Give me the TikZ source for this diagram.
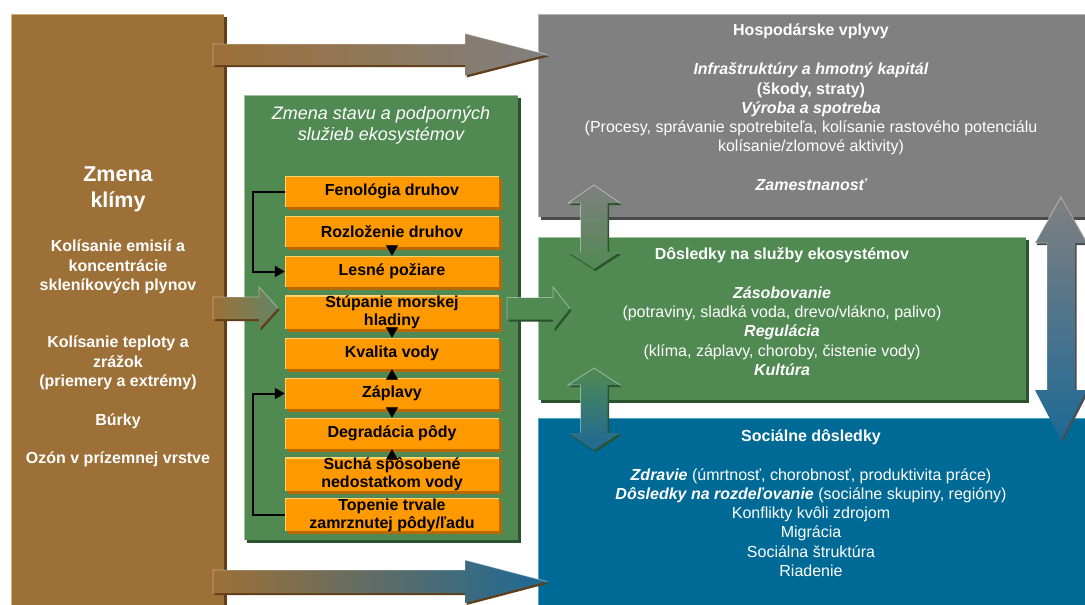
\documentclass[tikz,border=0pt]{standalone}
\usepackage{fontspec}
\setmainfont{Liberation Sans}
\usetikzlibrary{arrows.meta,shadows}
\definecolor{brownc}{RGB}{157,112,56}
\definecolor{brownl}{RGB}{205,175,130}
\definecolor{brownd}{RGB}{95,62,25}
\definecolor{greenc}{RGB}{80,137,82}
\definecolor{greenl}{RGB}{160,195,160}
\definecolor{greend}{RGB}{42,82,44}
\definecolor{grayc}{RGB}{128,128,128}
\definecolor{grayl}{RGB}{180,180,180}
\definecolor{grayd}{RGB}{75,75,75}
\definecolor{bluec}{RGB}{0,106,150}
\definecolor{bluel}{RGB}{80,160,200}
\definecolor{blued}{RGB}{0,60,90}
\definecolor{arrblue}{RGB}{30,105,150}
\definecolor{orangec}{RGB}{255,153,0}
\definecolor{orangel}{RGB}{255,210,110}
\definecolor{oranged}{RGB}{185,105,0}
\newcommand\harrow[8]{%
  \fill[#8, shift={(1.5,2)}] (#1,{#4-#5}) -- (#2,{#4-#5}) -- (#2,{#4-#6}) -- (#3,#4) -- (#2,{#4+#6}) -- (#2,{#4+#5}) -- (#1,{#4+#5}) -- cycle;
  \shade[#7] (#1,{#4-#5}) -- (#2,{#4-#5}) -- (#2,{#4-#6}) -- (#3,#4) -- (#2,{#4+#6}) -- (#2,{#4+#5}) -- (#1,{#4+#5}) -- cycle;
  \draw[white, opacity=0.4, line width=0.9pt] (#1,{#4+#5}) -- (#1,{#4-#5}) -- (#2,{#4-#5}) -- (#2,{#4-#6}) -- (#3,#4);
}
\newcommand\varrow[9]{%
  \fill[#9, shift={(1.5,2)}] (#1,#2) -- ({#1+#7},#3) -- ({#1+#6},#3) -- ({#1+#6},#4) -- ({#1+#7},#4) -- (#1,#5) -- ({#1-#7},#4) -- ({#1-#6},#4) -- ({#1-#6},#3) -- ({#1-#7},#3) -- cycle;
  \shade[#8] (#1,#2) -- ({#1+#7},#3) -- ({#1+#6},#3) -- ({#1+#6},#4) -- ({#1+#7},#4) -- (#1,#5) -- ({#1-#7},#4) -- ({#1-#6},#4) -- ({#1-#6},#3) -- ({#1-#7},#3) -- cycle;
  \draw[white, opacity=0.4, line width=0.9pt] ({#1-#6},#4) -- ({#1-#6},#3) -- ({#1-#7},#3) -- (#1,#2) -- ({#1+#7},#3);
}
\begin{document}
\begin{tikzpicture}[x=1pt,y=-1pt,
  panel/.style n args={3}{fill=#1, inner sep=0pt, anchor=north west,
    drop shadow={shadow xshift=2.5pt, shadow yshift=-2.5pt, fill=#3, opacity=1},
    path picture={\draw[#2, line width=2.5pt] (path picture bounding box.south west) -- (path picture bounding box.north west) -- (path picture bounding box.north east);}},
  obox/.style={fill=orangec, inner sep=0pt, minimum width=214pt, minimum height=31pt,
    font=\bfseries\fontsize{16}{18}\selectfont, align=center, text=black,
    drop shadow={shadow xshift=2.5pt, shadow yshift=-2.5pt, fill=oranged, opacity=1},
    path picture={\draw[orangel, line width=1.6pt] (path picture bounding box.south west) -- (path picture bounding box.north west) -- (path picture bounding box.north east);}},
  wtxt/.style={text=white, align=center, inner sep=0pt},
  rtxt/.style={wtxt, font=\fontsize{16}{19.3}\selectfont},
  rbold/.style={wtxt, font=\bfseries\fontsize{16}{19.3}\selectfont},
  ltxt/.style={wtxt, font=\bfseries\fontsize{16}{19.5}\selectfont},
  smallarr/.style={line width=0.8pt, shorten <=-1.5pt, -{Triangle[length=10.5pt,width=12pt]}},
  elbow/.style={line width=2pt, -{Triangle[length=10pt,width=11pt]}}
]
\useasboundingbox (0,0) rectangle (1085,605);
\fill[white] (0,0) rectangle (1085,605);

% ---- panels
\node[panel={brownc}{brownl}{brownd}, minimum width=213pt, minimum height=600pt] (clim) at (11,14) {};
\node[panel={greenc}{greenl}{greend}, minimum width=274pt, minimum height=445pt] (eco) at (244,95) {};
\node[panel={grayc}{grayl}{grayd}, minimum width=550pt, minimum height=203pt] (econ) at (538,14) {};
\node[panel={greenc}{greenl}{greend}, minimum width=488pt, minimum height=163pt] (serv) at (538,237) {};
\node[panel={bluec}{bluel}{blued}, minimum width=550pt, minimum height=190pt] (soc) at (538,418) {};

% ---- climate texts
\node[wtxt, font=\bfseries\fontsize{21.5}{26}\selectfont] (cltitle) at (118,189) {Zmena\\klímy};
\node[ltxt] (cl1) at (118,267) {Kolísanie emisií a\\koncentrácie\\skleníkových plynov};
\node[ltxt] (cl2) at (118,363) {Kolísanie teploty a\\zrážok\\(priemery a extrémy)};
\node[ltxt] (cl3) at (118,421) {Búrky};
\node[ltxt] (cl4) at (118,459) {Ozón v prízemnej vrstve};

% ---- ecosystem state title
\node[wtxt, font=\itshape\fontsize{18}{21}\selectfont] (ecotitle) at (381,125) {Zmena stavu a podporných\\služieb ekosystémov};

% ---- orange boxes
\node[obox] (fen)  at (392,191.5) {Fenológia druhov};
\node[obox] (rozl) at (392,231.5) {Rozloženie druhov};
\node[obox] (lesn) at (392,271.5) {Lesné požiare};
\node[obox] (stup) at (392,312.5) {Stúpanie morskej\\hladiny};
\node[obox] (kval) at (392,353.5) {Kvalita vody};
\node[obox] (zapl) at (392,393.5) {Záplavy};
\node[obox] (degr) at (392,433.5) {Degradácia pôdy};
\node[obox] (such) at (392,474.5) {Suchá spôsobené\\nedostatkom vody};
\node[obox] (tope) at (392,515) {Topenie trvale\\zamrznutej pôdy/ľadu};

\draw[smallarr] (rozl.south) -- (lesn.north);
\draw[smallarr] (stup.south) -- (kval.north);
\draw[smallarr] (zapl.north) -- (kval.south);
\draw[smallarr] (zapl.south) -- (degr.north);
\draw[smallarr] (such.north) -- (degr.south);
\draw[elbow] (fen.west) -- ++(-32,0) |- (lesn.west);
\draw[elbow] (tope.west) -- ++(-32,0) |- (zapl.west);

% ---- right texts
\node[rbold] (econt) at (811,31) {Hospodárske vplyvy};
\node[rtxt] (econb) at (811,109) {\textbf{\textit{Infraštruktúry a hmotný kapitál}}\\\textbf{(škody, straty)}\\\textbf{\textit{Výroba a spotreba}}\\(Procesy, správanie spotrebiteľa, kolísanie rastového potenciálu\\kolísanie/zlomové aktivity)};
\node[rtxt, font=\bfseries\itshape\fontsize{16}{19}\selectfont] (econz) at (811,185) {Zamestnanosť};

\node[rbold] (servt) at (782,255) {Dôsledky na služby ekosystémov};
\node[rtxt] (servb) at (782,331) {\textbf{\textit{Zásobovanie}}\\(potraviny, sladká voda, drevo/vlákno, palivo)\\\textbf{\textit{Regulácia}}\\(klíma, záplavy, choroby, čistenie vody)\\\textbf{\textit{Kultúra}}};

\node[rbold] (soct) at (811,437) {Sociálne dôsledky};
\node[rtxt] (socb) at (811,522.5) {\textbf{\textit{Zdravie}} (úmrtnosť, chorobnosť, produktivita práce)\\\textbf{\textit{Dôsledky na rozdeľovanie}} (sociálne skupiny, regióny)\\Konflikty kvôli zdrojom\\Migrácia\\Sociálna štruktúra\\Riadenie};

% ---- block arrows
\harrow{213}{465}{547}{54.5}{10.5}{21}{left color=brownc, right color=grayc}{brownd}
\harrow{213}{465}{547}{581.5}{11.5}{21.5}{left color=brownc, right color=arrblue}{brownd}
\harrow{213}{259}{278}{308}{11}{21}{left color=brownc, right color=greenc!60!grayc}{brownd}
\harrow{507}{553}{570}{308.5}{11}{21.5}{left color=greenc, right color=greenc}{greend}
\varrow{594}{185}{203}{252}{269}{13.5}{26}{top color=grayc, bottom color=greenc}{greend}
\varrow{594}{368}{385}{433}{450}{13.5}{26}{top color=greenc, bottom color=arrblue}{greend}
\varrow{1061}{197}{243}{390}{440}{14}{26}{top color=grayc, bottom color=arrblue}{grayd}
\end{tikzpicture}
\end{document}
